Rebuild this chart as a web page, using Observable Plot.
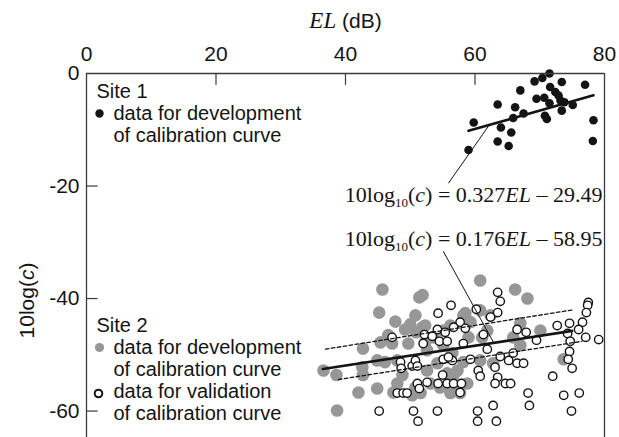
<!DOCTYPE html>
<html><head><meta charset="utf-8">
<script src="https://cdn.jsdelivr.net/npm/d3@7"></script>
<script src="https://cdn.jsdelivr.net/npm/@observablehq/plot@0.6"></script>
<style>html,body{margin:0;padding:0;background:#fff}#chart svg{display:block}</style>
</head><body><div id="chart"></div>
<script>
// ---------- data ----------
const xTicks = [0, 20, 40, 60, 80];
const yTicks = [0, -20, -40, -60];
const xLabel = "EL (dB)";
const yLabel = "10log(c)";

// Site 1: data for development of calibration curve
const site1EL = [59.8, 59.0, 63.5, 66.2, 67.0, 64.0, 65.6, 63.5, 65.2, 65.9, 67.5, 69.2, 70.4, 71.5, 71.6, 73.4, 72.4, 72.9, 69.5, 70.7, 71.5, 73.2, 73.8, 75.1, 73.4, 70.8, 71.1, 77.0, 78.3, 78.2];
const site1C  = [-8.7, -13.6, -5.5, -6.0, -3.0, -9.6, -10.5, -12.1, -12.9, -7.9, -7.1, -1.4, -0.8, 0.0, -2.4, -1.5, -3.3, -3.9, -4.5, -4.3, -5.3, -4.8, -5.1, -5.6, -6.6, -7.5, -8.1, -2.0, -8.3, -12.0];

// Site 2: data for development of calibration curve
const site2DevEL = [36.6, 38.6, 38.7, 45.7, 51.4, 45.2, 47.7, 50.8, 50.0, 49.2, 50.9, 51.9, 42.7, 45.4, 47.2, 46.6, 49.7, 44.9, 42.6, 46.1, 48.0, 42.7, 42.0, 44.9, 48.0, 48.8, 47.4, 50.3, 51.6, 50.8, 52.3, 58.5, 46.9, 60.8, 66.2, 51.9, 60.8, 62.4, 58.2, 59.3, 56.2, 55.1, 53.6, 52.3, 61.9, 61.1, 55.1, 52.6, 56.5, 54.2, 58.2, 52.6, 56.7, 57.4, 54.6, 53.1, 56.2, 58.8, 57.3, 68.1, 67.0, 70.1, 65.9, 73.7, 59.0, 62.8, 60.8, 55.7, 57.7, 67.0];
const site2DevC  = [-52.8, -53.6, -59.9, -38.4, -39.8, -42.5, -44.1, -43.0, -44.6, -45.5, -46.0, -45.1, -48.9, -47.8, -48.0, -46.5, -48.0, -51.0, -52.2, -51.3, -51.0, -53.6, -56.7, -56.0, -55.1, -53.6, -56.7, -57.2, -56.8, -55.8, -44.8, -42.6, -46.9, -36.8, -38.4, -39.4, -42.1, -43.0, -43.0, -44.2, -44.8, -45.7, -46.9, -47.8, -45.7, -46.9, -48.3, -49.2, -49.7, -51.5, -51.3, -52.8, -53.6, -56.3, -55.8, -55.1, -56.8, -55.1, -52.8, -40.0, -44.4, -45.7, -46.9, -50.8, -46.9, -51.5, -51.0, -53.3, -56.8, -48.3];

// Site 2: data for validation of calibration curve
const site2ValEL = [47.2, 52.2, 52.0, 48.5, 48.6, 50.3, 50.8, 51.1, 51.1, 52.6, 51.4, 48.0, 48.9, 49.5, 45.2, 50.5, 51.2, 63.5, 63.9, 56.3, 54.3, 60.2, 63.5, 62.4, 57.7, 56.7, 58.5, 54.2, 55.4, 53.4, 54.5, 55.7, 58.2, 61.3, 66.5, 61.9, 59.3, 55.1, 56.5, 55.9, 63.9, 65.9, 65.2, 60.5, 60.8, 63.1, 55.0, 54.3, 55.7, 56.7, 57.9, 63.5, 63.1, 64.7, 65.5, 57.7, 54.2, 60.4, 62.8, 60.4, 63.3, 77.5, 77.4, 77.2, 72.7, 74.6, 76.6, 76.0, 74.3, 67.9, 69.5, 77.1, 74.7, 79.1, 74.6, 74.4, 75.0, 66.5, 67.5, 72.0, 68.2, 73.7, 76.1, 68.4, 74.9];
const site2ValC  = [-46.9, -46.4, -48.0, -51.3, -52.4, -52.0, -51.0, -52.0, -55.1, -54.9, -56.0, -56.8, -56.8, -56.8, -60.0, -60.0, -61.8, -38.9, -40.5, -41.2, -42.6, -41.9, -42.5, -43.3, -44.2, -45.1, -45.3, -45.5, -46.0, -46.7, -47.6, -47.6, -48.0, -46.4, -45.5, -49.0, -50.8, -50.8, -51.0, -50.4, -50.3, -49.7, -51.0, -52.8, -53.8, -52.2, -53.6, -55.1, -55.1, -55.1, -55.1, -54.0, -55.1, -55.1, -55.1, -56.7, -60.0, -60.0, -59.0, -61.8, -61.8, -40.7, -41.2, -42.5, -44.8, -44.4, -44.2, -45.5, -46.2, -46.0, -47.4, -46.9, -47.6, -47.3, -49.4, -50.8, -52.4, -51.5, -51.5, -53.8, -56.8, -57.2, -56.8, -59.0, -60.0];

// calibration curves: 10log10(c) = slope*EL + intercept
const site1Slope = 0.327, site1Intercept = -29.49, site1FitEL = [59.0, 78.3];
const site2Slope = 0.176, site2Intercept = -58.95, site2FitEL = [36.5, 75.0];
// dashed band lines around the Site 2 curve
const upperBandEL = [36.9, 75.2], upperBandC = [-49.0, -42.0];
const lowerBandEL = [38.9, 76.5], lowerBandC = [-54.4, -47.6];

const equationLabels = ["10log10(c) = 0.327EL – 29.49", "10log10(c) = 0.176EL – 58.95"];
// leader lines from equations to curves
const leaderFromEL = [55.9, 55.1], leaderFromC = [-19.5, -31.6], leaderToEL = [62.2, 62.9];

const legend1Labels = ["Site 1", "data for development", "of calibration curve"];
const legend2Labels = ["Site 2", "data for development", "of calibration curve", "data for validation", "of calibration curve"];

// ---------- tables ----------
const site1 = site1EL.map((x, i) => ({x, y: site1C[i]}));
const dev2 = site2DevEL.map((x, i) => ({x, y: site2DevC[i]}));
const val2 = site2ValEL.map((x, i) => ({x, y: site2ValC[i]}));
const fit1 = site1FitEL.map(x => ({x, y: site1Slope * x + site1Intercept}));
const fit2 = site2FitEL.map(x => ({x, y: site2Slope * x + site2Intercept}));
const up2 = upperBandEL.map((x, i) => ({x, y: upperBandC[i]}));
const lo2 = lowerBandEL.map((x, i) => ({x, y: lowerBandC[i]}));
const fits = [[site1Slope, site1Intercept], [site2Slope, site2Intercept]];
const leaders = leaderFromEL.map((x1, i) => ({x1, y1: leaderFromC[i], x2: leaderToEL[i], y2: fits[i][0] * leaderToEL[i] + fits[i][1]}));

// ---------- style ----------
const INK = "#141414", FRAME = "#3a3a3a", GRAY = "#979797";
const SANS = "'Liberation Sans', Arial, sans-serif";
const SERIF = "'Liberation Serif', 'Times New Roman', serif";

function legendText(labels, top) {
  return labels.map((s, i) => Plot.text([s], {
    text: d => d, frameAnchor: "top-left", dx: i === 0 ? 10 : 27, dy: top + 22 * i,
    textAnchor: "start", lineAnchor: "bottom", fontSize: 20, fill: INK
  }));
}

const chart = Plot.plot({
  width: 619, height: 437,
  marginLeft: 86, marginRight: 15, marginTop: 73, marginBottom: 0,
  style: {fontFamily: SANS, fontSize: "21px", color: INK, background: "#fff", overflow: "visible"},
  x: {domain: [0, 80], axis: "top", ticks: xTicks, tickSize: 0, tickPadding: 13, label: null},
  y: {domain: [-64.7, 0], ticks: yTicks, tickSize: 0, tickPadding: 7, label: null, tickFormat: d => String(d)},
  marks: [
    Plot.dot(dev2, {x: "x", y: "y", r: 6.3, fill: GRAY}),
    Plot.dot(val2, {x: "x", y: "y", r: 4.2, fill: "#fff", stroke: INK, strokeWidth: 1.4}),
    Plot.dot(site1, {x: "x", y: "y", r: 4.3, fill: INK}),
    Plot.line(up2, {x: "x", y: "y", stroke: INK, strokeWidth: 1.3, strokeDasharray: "3.5,2.5"}),
    Plot.line(lo2, {x: "x", y: "y", stroke: INK, strokeWidth: 1.3, strokeDasharray: "3.5,2.5"}),
    Plot.line(fit2, {x: "x", y: "y", stroke: INK, strokeWidth: 2.6}),
    Plot.line(fit1, {x: "x", y: "y", stroke: INK, strokeWidth: 2.6}),
    Plot.link(leaders, {x1: "x1", y1: "y1", x2: "x2", y2: "y2", stroke: INK, strokeWidth: 1}),
    // frame (bottom is cropped in the reference) and inward ticks
    Plot.ruleY([0], {stroke: FRAME, strokeWidth: 1.3}),
    Plot.ruleX([0, 80], {stroke: FRAME, strokeWidth: 1.3}),
    Plot.ruleX(xTicks.slice(1, -1), {x: d => d, y1: 0, y2: -2.1, stroke: FRAME, strokeWidth: 1.2}),
    Plot.ruleY(yTicks.slice(1), {y: d => d, x1: 0, x2: 1.8, stroke: FRAME, strokeWidth: 1.2}),
    // equations
    Plot.text([equationLabels[0]], {text: d => d, frameAnchor: "top-right", dx: -2, dy: 128, textAnchor: "end", lineAnchor: "bottom", fontFamily: SERIF, fontSize: 22, fill: INK}),
    Plot.text([equationLabels[1]], {text: d => d, frameAnchor: "top-right", dx: -2, dy: 172, textAnchor: "end", lineAnchor: "bottom", fontFamily: SERIF, fontSize: 22, fill: INK}),
    // axis titles
    Plot.text([xLabel], {text: d => d, frameAnchor: "top", dy: -46, textAnchor: "middle", lineAnchor: "bottom", fontSize: 21, fill: INK}),
    Plot.text([yLabel], {text: d => d, frameAnchor: "left", rotate: -90, dx: -59, dy: 45, textAnchor: "middle", lineAnchor: "middle", fontSize: 21, fill: INK}),
    // legend
    ...legendText(legend1Labels, 24),
    ...legendText(legend2Labels, 258),
    Plot.dot([0], {frameAnchor: "top-left", dx: 13, dy: 40, r: 4.2, fill: INK}),
    Plot.dot([0], {frameAnchor: "top-left", dx: 13, dy: 274, r: 4.6, fill: GRAY}),
    Plot.dot([0], {frameAnchor: "top-left", dx: 12, dy: 320, r: 3.8, fill: "#fff", stroke: INK, strokeWidth: 2})
  ]
});
document.getElementById("chart").appendChild(chart);

// ---------- rich text (italics, subscripts) ----------
function rich(el, parts) {
  el.textContent = "";
  const s = d3.select(el);
  for (const [str, attrs] of parts) {
    const t = s.append("tspan").text(str);
    for (const k in attrs) t.attr(k, attrs[k]);
  }
}
d3.select(chart).selectAll("text").each(function () {
  const t = this.textContent;
  let m;
  if ((m = t.match(/^10log10\(c\) = (\S+)EL – (\S+)$/))) {
    rich(this, [
      ["10log", {}], ["10", {"font-size": "13px", dy: "5"}], ["(", {dy: "-5"}],
      ["c", {"font-style": "italic"}], [") = " + m[1], {}], ["EL", {"font-style": "italic"}], [" – " + m[2], {}]
    ]);
  } else if (t === xLabel) {
    rich(this, [["EL", {"font-style": "italic", "font-family": SERIF, "font-size": "23px"}], [" (dB)", {}]]);
  } else if (t === yLabel) {
    rich(this, [["10log(", {}], ["c", {"font-style": "italic"}], [")", {}]]);
  }
});
</script>
</body></html>
